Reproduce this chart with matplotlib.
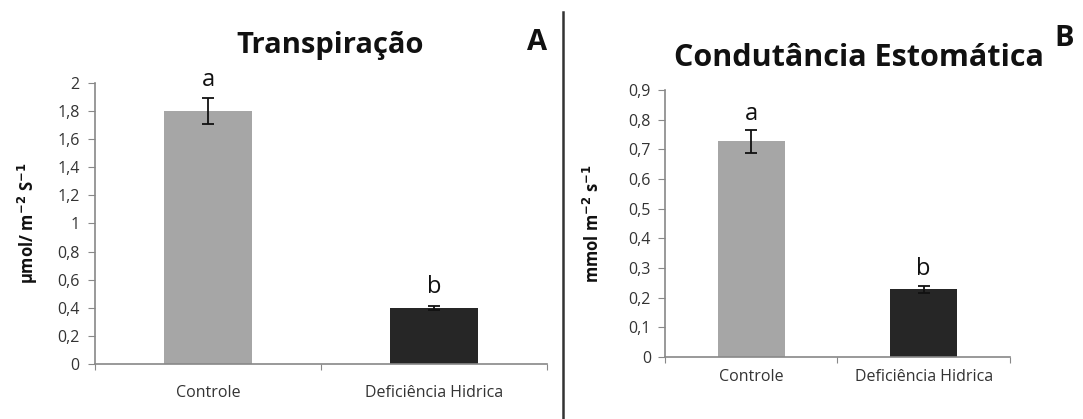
import matplotlib.pyplot as plt
from matplotlib.lines import Line2D
from matplotlib.ticker import FuncFormatter

categories = ['Controle', 'Deficiência Hidrica']
transp = [1.80, 0.40]
transp_err = [0.09, 0.015]
transp_letters = ['a', 'b']
cond = [0.727, 0.228]
cond_err = [0.038, 0.013]
cond_letters = ['a', 'b']
bar_colors = ['#a6a6a6', '#262626']

plt.rcParams['font.family'] = ['Open Sans', 'DejaVu Sans']

fig = plt.figure(figsize=(10.83, 4.19), dpi=100)
axA = fig.add_axes([0.0877, 0.1313, 0.4174, 0.6706])
axB = fig.add_axes([0.614, 0.148, 0.3186, 0.637])


def comma(v, pos):
    s = ('%.1f' % v).rstrip('0').rstrip('.')
    return s.replace('.', ',')


def panel(ax, vals, errs, letters, ymax, step, ylabel, letter_pad, label_pad, ypad):
    x = range(len(vals))
    ax.bar(x, vals, width=0.39, color=bar_colors, zorder=2)
    ax.errorbar(x, vals, yerr=errs, fmt='none', ecolor='#111111', elinewidth=1.3,
                capsize=4, capthick=1.3, zorder=3)
    for i, (v, e, l) in enumerate(zip(vals, errs, letters)):
        ax.annotate(l, (i, v + e), xytext=(0, letter_pad), textcoords='offset points',
                    ha='center', va='bottom', fontsize=17, color='#111111')
    ax.set_xlim(-0.5, 1.5)
    ax.set_ylim(0, ymax)
    n = int(round(ymax / step))
    ax.set_yticks([i * step for i in range(n + 1)])
    ax.yaxis.set_major_formatter(FuncFormatter(comma))
    ax.set_xticks([-0.5, 0.5, 1.5])
    ax.set_xticklabels([])
    ax.set_xticks([0, 1], minor=True)
    ax.set_xticklabels(categories, minor=True)
    ax.tick_params(axis='x', which='minor', length=0, pad=label_pad, labelsize=11.5, labelcolor='#333333')
    ax.tick_params(axis='x', which='major', length=4, color='#888888', direction='out')
    ax.tick_params(axis='y', length=5, color='#888888', labelsize=11.5, labelcolor='#333333', pad=ypad)
    for s in ['top', 'right']:
        ax.spines[s].set_visible(False)
    for s in ['left', 'bottom']:
        ax.spines[s].set_color('#888888')
        ax.spines[s].set_linewidth(1.2)
    ax.set_ylabel(ylabel, fontsize=12, fontweight='bold', color='#111111')


panel(axA, transp, transp_err, transp_letters, 2.0, 0.2,
      r'µmol/ m$^{\mathbf{-2}}$ S$^{\mathbf{-1}}$', 5, 15, 6)
panel(axB, cond, cond_err, cond_letters, 0.9, 0.1,
      r'mmol m$^{\mathbf{-2}}$ s$^{\mathbf{-1}}$', 3, 9, 5)
axA.yaxis.set_label_coords(-0.122, 0.5)
axB.yaxis.set_label_coords(-0.18, 0.5)

fig.text(330 / 1083, 1 - 45 / 419, 'Transpiração', ha='center', va='center',
         fontsize=21, fontweight='bold', color='#111111')
fig.text(537 / 1083, 1 - 42 / 419, 'A', ha='center', va='center',
         fontsize=21, fontweight='bold', color='#111111')
fig.text(859 / 1083, 1 - 58 / 419, 'Condutância Estomática', ha='center', va='center',
         fontsize=22, fontweight='bold', color='#111111')
fig.text(1064 / 1083, 1 - 38 / 419, 'B', ha='center', va='center',
         fontsize=21, fontweight='bold', color='#111111')

fig.add_artist(Line2D([563 / 1083, 563 / 1083], [0, 1 - 12 / 419],
                      transform=fig.transFigure, color='#333333', linewidth=1.8))

fig.savefig('out.png', dpi=100)
